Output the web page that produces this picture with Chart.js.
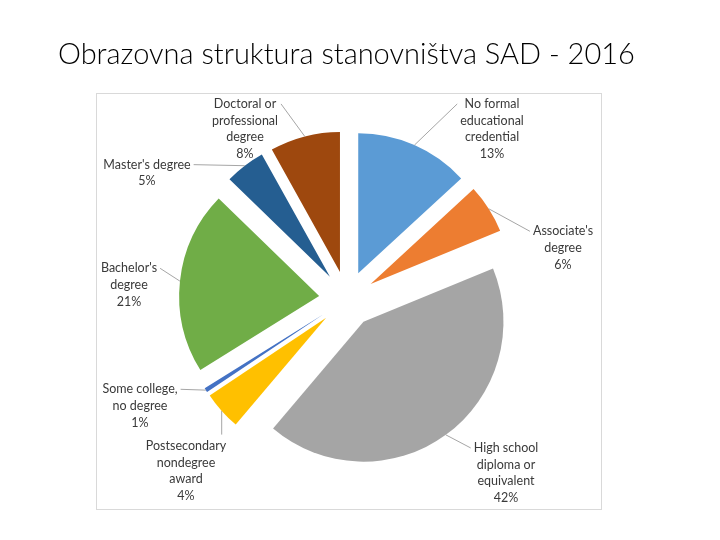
<!DOCTYPE html>
<html>
<head>
<meta charset="utf-8">
<script src="https://cdn.jsdelivr.net/npm/chart.js@4.4.1/dist/chart.umd.min.js"></script>
<style>
  html, body { margin: 0; padding: 0; background: #fff; }
  #wrap { width: 720px; height: 540px; }
</style>
</head>
<body>
<div id="wrap"><canvas id="pieChart" width="720" height="540"></canvas></div>
<script>
const chartTitle = "Obrazovna struktura stanovništva SAD - 2016";

// kategorije (po redu, od vrha u smjeru kazaljke)
const categories = [
  ["No formal", "educational", "credential"],
  ["Associate's", "degree"],
  ["High school", "diploma or", "equivalent"],
  ["Postsecondary", "nondegree", "award"],
  ["Some college,", "no degree"],
  ["Bachelor's", "degree"],
  ["Master's degree"],
  ["Doctoral or", "professional", "degree"]
];
const shares = [13.0, 5.6, 41.9, 4.4, 0.5, 20.9, 4.6, 8.0];
const colors = ["#5B9BD5", "#ED7D31", "#A5A5A5", "#FFC000", "#4472C4", "#70AD47", "#255E91", "#9E480E"];

// smjestaj oznaka u odnosu na sredinu pite
const labelDx = [145, 216, 159, -161, -207, -218, -200, -102];
const labelDy = [-170, -51, 174, 172, 107, -14, -126, -170];

const PIE_R = 140;      // radijus kriske
const EXPLODE = 28;     // pomak kriske od sredine
const LINE_H = 16.7;
const LABEL_FONT = "12.5px Lato";

const total = shares.reduce((a, b) => a + b, 0);

function pieCenter(chart) {
  const a = chart.chartArea;
  return { x: (a.left + a.right) / 2, y: (a.top + a.bottom) / 2 };
}

const decorPlugin = {
  id: "decor",
  beforeDraw(chart) {
    const ctx = chart.ctx;
    ctx.save();
    ctx.fillStyle = "#fff";
    ctx.fillRect(0, 0, chart.width, chart.height);
    // okvir grafikona
    ctx.strokeStyle = "#D9D9D9";
    ctx.lineWidth = 1;
    ctx.strokeRect(96.5, 93.5, 505, 416);
    // naslov
    ctx.fillStyle = "#000";
    ctx.font = "300 28px Lato";
    const w = ctx.measureText(chartTitle).width;
    const size = 28 * 577 / w;
    ctx.font = "300 " + size.toFixed(2) + "px Lato";
    ctx.textBaseline = "alphabetic";
    ctx.textAlign = "left";
    ctx.fillText(chartTitle, 58, 64);
    ctx.restore();
  },
  beforeDatasetsDraw(chart) {
    // "izvucene" kriske: svaka se pomice od sredine duz svoje simetrale
    const c = pieCenter(chart);
    chart.getDatasetMeta(0).data.forEach((arc) => {
      const mid = (arc.startAngle + arc.endAngle) / 2;
      arc.x = c.x + Math.cos(mid) * EXPLODE;
      arc.y = c.y + Math.sin(mid) * EXPLODE;
    });
  },
  afterDatasetsDraw(chart) {
    const ctx = chart.ctx;
    const c = pieCenter(chart);
    ctx.save();
    ctx.font = LABEL_FONT;
    ctx.textAlign = "center";
    ctx.textBaseline = "middle";
    chart.getDatasetMeta(0).data.forEach((arc, i) => {
      const mid = (arc.startAngle + arc.endAngle) / 2;
      const sx = arc.x + Math.cos(mid) * arc.outerRadius;
      const sy = arc.y + Math.sin(mid) * arc.outerRadius;

      const lines = categories[i].concat([Math.round(shares[i] / total * 100) + "%"]);
      const lx = c.x + labelDx[i];
      const ly = c.y + labelDy[i];
      const w = Math.max(...lines.map((t) => ctx.measureText(t).width));
      const left = lx - w / 2, right = lx + w / 2;
      const top = ly - lines.length * LINE_H / 2;
      const firstY = top + LINE_H / 2;

      let ex, ey;
      if (sx < left) { ex = left - 3; ey = firstY; }
      else if (sx > right) { ex = right + 3; ey = firstY; }
      else if (sy < top) { ex = sx; ey = top - 3; }
      else { ex = sx; ey = top + lines.length * LINE_H + 3; }

      ctx.strokeStyle = "#A6A6A6";
      ctx.lineWidth = 1;
      ctx.beginPath();
      ctx.moveTo(sx, sy);
      ctx.lineTo(ex, ey);
      ctx.stroke();

      ctx.fillStyle = "#3A3A3A";
      lines.forEach((t, k) => ctx.fillText(t, lx, firstY + k * LINE_H));
    });
    ctx.restore();
  }
};

const ctxPie = document.getElementById("pieChart").getContext("2d");
new Chart(ctxPie, {
  type: "pie",
  data: {
    labels: categories,
    datasets: [
      {
        data: shares,
        backgroundColor: colors,
        borderWidth: 0,
        radius: PIE_R
      }
    ]
  },
  options: {
    responsive: false,
    animation: false,
    events: [],
    radius: PIE_R,
    layout: { padding: { left: 96, right: 122, top: 93, bottom: 35 } },
    plugins: {
      legend: { display: false },
      tooltip: { enabled: false },
      title: { display: false }
    }
  },
  plugins: [decorPlugin]
});
</script>
</body>
</html>
